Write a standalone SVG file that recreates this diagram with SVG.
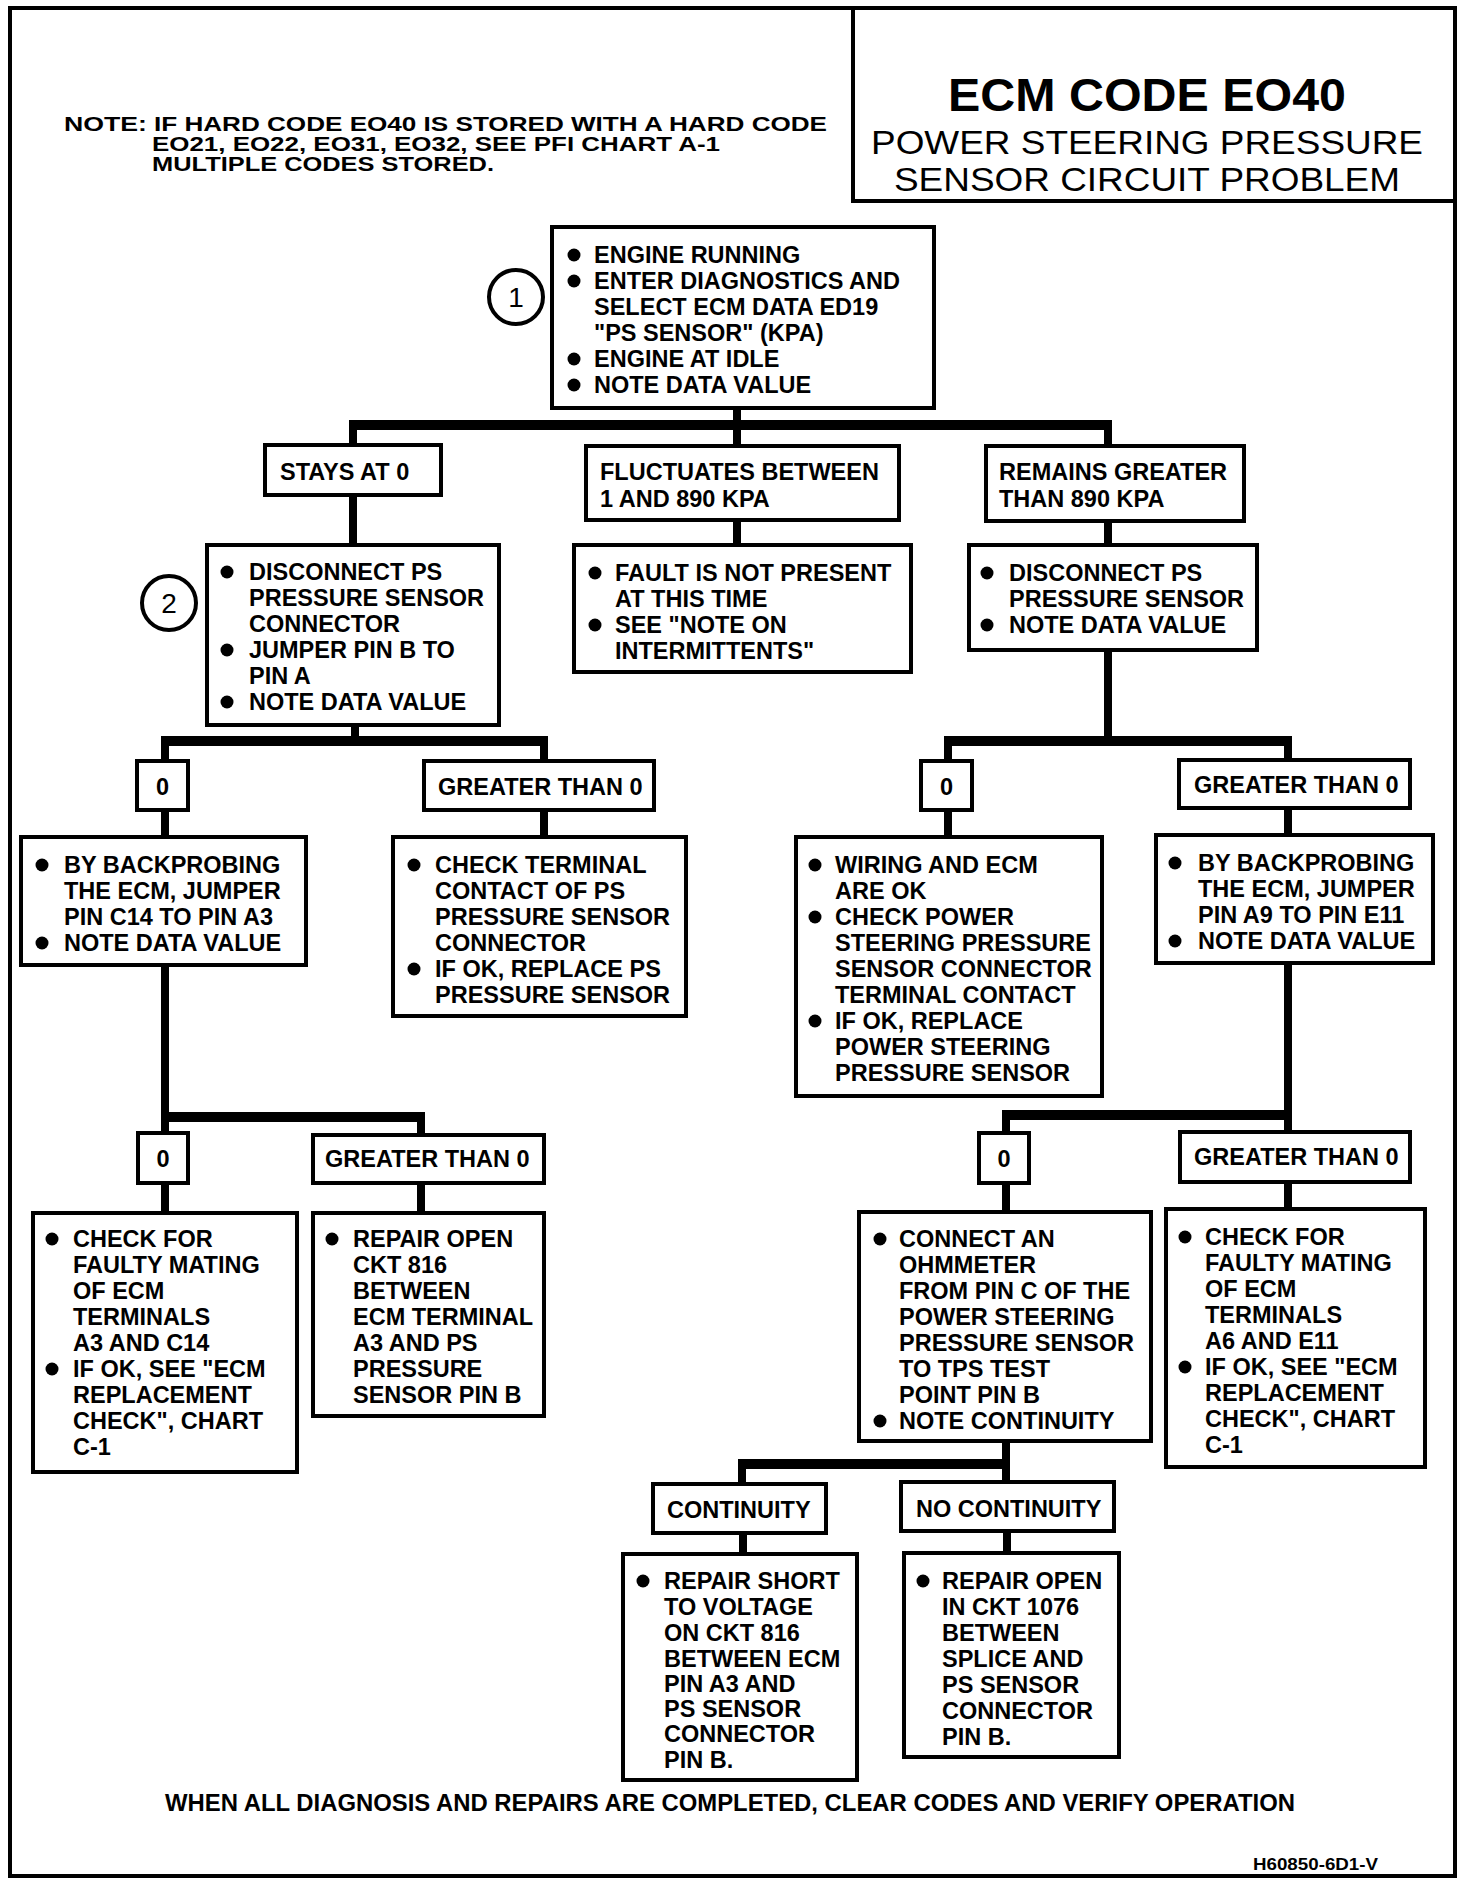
<svg xmlns="http://www.w3.org/2000/svg" width="1472" height="1886" viewBox="0 0 1472 1886">
<style>
.bg{fill:#fff}
.frame{fill:none;stroke:#000;stroke-width:4}
.box{fill:#fff;stroke:#000;stroke-width:4}
.conn{fill:none;stroke:#000;stroke-width:8;stroke-linecap:butt}
.bus{fill:none;stroke:#000;stroke-width:10;stroke-linecap:butt}
.t{font-family:"Liberation Sans",Arial,sans-serif;font-weight:bold;font-size:23.5px;fill:#000}
.note{font-family:"Liberation Sans",Arial,sans-serif;font-weight:bold;font-size:20px;fill:#000}
.title{font-family:"Liberation Sans",Arial,sans-serif;font-weight:bold;font-size:47px;fill:#000}
.sub{font-family:"Liberation Sans",Arial,sans-serif;font-weight:normal;font-size:34px;fill:#000}
.num{font-family:"Liberation Sans",Arial,sans-serif;font-weight:normal;font-size:28px;fill:#000}
.ring{fill:#fff;stroke:#000;stroke-width:4}
.dot{fill:#000}
.code{font-family:"Liberation Sans",Arial,sans-serif;font-weight:bold;font-size:16px;fill:#000}
</style>
<rect class="bg" x="0" y="0" width="1472" height="1886"/>
<rect class="frame" x="10" y="8" width="1445" height="1868"/>

<g id="title">
<rect class="frame" x="853" y="8" width="602" height="193"/>
<text class="title" x="1147" y="111" text-anchor="middle" textLength="398" lengthAdjust="spacingAndGlyphs">ECM CODE EO40</text>
<text class="sub" x="1147" y="154" text-anchor="middle" textLength="552" lengthAdjust="spacingAndGlyphs">POWER STEERING PRESSURE</text>
<text class="sub" x="1147" y="191" text-anchor="middle" textLength="506" lengthAdjust="spacingAndGlyphs">SENSOR CIRCUIT PROBLEM</text>
</g>

<g id="note">
<text class="note" x="64" y="131" textLength="83" lengthAdjust="spacingAndGlyphs">NOTE:</text>
<text class="note" x="154" y="131" textLength="673" lengthAdjust="spacingAndGlyphs">IF HARD CODE EO40 IS STORED WITH A HARD CODE</text>
<text class="note" x="152" y="151" textLength="568" lengthAdjust="spacingAndGlyphs">EO21, EO22, EO31, EO32, SEE PFI CHART A-1</text>
<text class="note" x="152" y="171" textLength="342" lengthAdjust="spacingAndGlyphs">MULTIPLE CODES STORED.</text>
</g>

<g id="connectors">
<path class="conn" d="M737,408 V446 M353,425 V445 M1108,425 V446"/>
<path class="bus" d="M349,425 H1112"/>
<path class="conn" d="M353,495 V545 M737,520 V545 M1108,521 V545"/>
<path class="conn" d="M355,725 V741 M165,741 V761 M544,741 V761"/>
<path class="bus" d="M161,741 H548"/>
<path class="conn" d="M165,810 V837 M544,810 V837"/>
<path class="conn" d="M1108,650 V741 M948,741 V761 M1288,741 V760"/>
<path class="bus" d="M944,741 H1292"/>
<path class="conn" d="M948,810 V837 M1288,808 V835"/>
<path class="conn" d="M165,965 V1133 M421,1117 V1135"/>
<path class="bus" d="M161,1117 H425"/>
<path class="conn" d="M165,1183 V1213 M421,1183 V1213"/>
<path class="conn" d="M1288,963 V1132 M1006,1115 V1133"/>
<path class="bus" d="M1002,1115 H1292"/>
<path class="conn" d="M1006,1183 V1212 M1288,1182 V1209"/>
<path class="conn" d="M1006,1441 V1482 M742,1464 V1484"/>
<path class="bus" d="M738,1464 H1010"/>
<path class="conn" d="M743,1533 V1554 M1007,1531 V1553"/>
</g>

<g id="step1">
<circle class="ring" cx="516" cy="297" r="27"/>
<text class="num" x="516" y="307" text-anchor="middle">1</text>
</g>
<g id="step2">
<circle class="ring" cx="169" cy="603" r="27"/>
<text class="num" x="169" y="613" text-anchor="middle">2</text>
</g>

<g id="start">
<rect class="box" x="552" y="227" width="382" height="181"/>
<circle class="dot" cx="574" cy="255" r="6.5"/>
<circle class="dot" cx="574" cy="281" r="6.5"/>
<circle class="dot" cx="574" cy="359" r="6.5"/>
<circle class="dot" cx="574" cy="385" r="6.5"/>
<text class="t" x="594" y="263">ENGINE RUNNING</text>
<text class="t" x="594" y="289">ENTER DIAGNOSTICS AND</text>
<text class="t" x="594" y="315">SELECT ECM DATA ED19</text>
<text class="t" x="594" y="341">"PS SENSOR" (KPA)</text>
<text class="t" x="594" y="367">ENGINE AT IDLE</text>
<text class="t" x="594" y="393">NOTE DATA VALUE</text>
</g>

<g id="stays0">
<rect class="box" x="265" y="445" width="176" height="50"/>
<text class="t" x="280" y="480">STAYS AT 0</text>
</g>
<g id="fluctuates">
<rect class="box" x="586" y="446" width="313" height="74"/>
<text class="t" x="600" y="480">FLUCTUATES BETWEEN</text>
<text class="t" x="600" y="507">1 AND 890 KPA</text>
</g>
<g id="remains">
<rect class="box" x="986" y="446" width="258" height="75"/>
<text class="t" x="999" y="480">REMAINS GREATER</text>
<text class="t" x="999" y="507">THAN 890 KPA</text>
</g>

<g id="disconnectJumper">
<rect class="box" x="207" y="545" width="292" height="180"/>
<circle class="dot" cx="227" cy="572" r="6.5"/>
<circle class="dot" cx="227" cy="650" r="6.5"/>
<circle class="dot" cx="227" cy="702" r="6.5"/>
<text class="t" x="249" y="580">DISCONNECT PS</text>
<text class="t" x="249" y="606">PRESSURE SENSOR</text>
<text class="t" x="249" y="632">CONNECTOR</text>
<text class="t" x="249" y="658">JUMPER PIN B TO</text>
<text class="t" x="249" y="684">PIN A</text>
<text class="t" x="249" y="710">NOTE DATA VALUE</text>
</g>
<g id="faultNotPresent">
<rect class="box" x="574" y="545" width="337" height="127"/>
<circle class="dot" cx="595" cy="573" r="6.5"/>
<circle class="dot" cx="595" cy="625" r="6.5"/>
<text class="t" x="615" y="581">FAULT IS NOT PRESENT</text>
<text class="t" x="615" y="607">AT THIS TIME</text>
<text class="t" x="615" y="633">SEE "NOTE ON</text>
<text class="t" x="615" y="659">INTERMITTENTS"</text>
</g>
<g id="disconnectSensor">
<rect class="box" x="969" y="545" width="288" height="105"/>
<circle class="dot" cx="987" cy="573" r="6.5"/>
<circle class="dot" cx="987" cy="625" r="6.5"/>
<text class="t" x="1009" y="581">DISCONNECT PS</text>
<text class="t" x="1009" y="607">PRESSURE SENSOR</text>
<text class="t" x="1009" y="633">NOTE DATA VALUE</text>
</g>

<g id="l0">
<rect class="box" x="137" y="761" width="51" height="49"/>
<text class="t" x="162.5" y="795" text-anchor="middle">0</text>
</g>
<g id="lGreater">
<rect class="box" x="424" y="761" width="230" height="49"/>
<text class="t" x="438" y="795">GREATER THAN 0</text>
</g>
<g id="r0">
<rect class="box" x="921" y="761" width="51" height="49"/>
<text class="t" x="946.5" y="795" text-anchor="middle">0</text>
</g>
<g id="rGreater">
<rect class="box" x="1179" y="760" width="231" height="48"/>
<text class="t" x="1194" y="793">GREATER THAN 0</text>
</g>

<g id="backprobeL">
<rect class="box" x="21" y="837" width="285" height="128"/>
<circle class="dot" cx="42" cy="865" r="6.5"/>
<circle class="dot" cx="42" cy="943" r="6.5"/>
<text class="t" x="64" y="873">BY BACKPROBING</text>
<text class="t" x="64" y="899">THE ECM, JUMPER</text>
<text class="t" x="64" y="925">PIN C14 TO PIN A3</text>
<text class="t" x="64" y="951">NOTE DATA VALUE</text>
</g>
<g id="checkTerminal">
<rect class="box" x="393" y="837" width="293" height="179"/>
<circle class="dot" cx="414" cy="865" r="6.5"/>
<circle class="dot" cx="414" cy="969" r="6.5"/>
<text class="t" x="435" y="873">CHECK TERMINAL</text>
<text class="t" x="435" y="899">CONTACT OF PS</text>
<text class="t" x="435" y="925">PRESSURE SENSOR</text>
<text class="t" x="435" y="951">CONNECTOR</text>
<text class="t" x="435" y="977">IF OK, REPLACE PS</text>
<text class="t" x="435" y="1003">PRESSURE SENSOR</text>
</g>
<g id="wiringOk">
<rect class="box" x="796" y="837" width="306" height="259"/>
<circle class="dot" cx="815" cy="865" r="6.5"/>
<circle class="dot" cx="815" cy="917" r="6.5"/>
<circle class="dot" cx="815" cy="1021" r="6.5"/>
<text class="t" x="835" y="873">WIRING AND ECM</text>
<text class="t" x="835" y="899">ARE OK</text>
<text class="t" x="835" y="925">CHECK POWER</text>
<text class="t" x="835" y="951">STEERING PRESSURE</text>
<text class="t" x="835" y="977">SENSOR CONNECTOR</text>
<text class="t" x="835" y="1003">TERMINAL CONTACT</text>
<text class="t" x="835" y="1029">IF OK, REPLACE</text>
<text class="t" x="835" y="1055">POWER STEERING</text>
<text class="t" x="835" y="1081">PRESSURE SENSOR</text>
</g>
<g id="backprobeR">
<rect class="box" x="1156" y="835" width="277" height="128"/>
<circle class="dot" cx="1175" cy="863" r="6.5"/>
<circle class="dot" cx="1175" cy="941" r="6.5"/>
<text class="t" x="1198" y="871">BY BACKPROBING</text>
<text class="t" x="1198" y="897">THE ECM, JUMPER</text>
<text class="t" x="1198" y="923">PIN A9 TO PIN E11</text>
<text class="t" x="1198" y="949">NOTE DATA VALUE</text>
</g>

<g id="l2_0">
<rect class="box" x="138" y="1133" width="50" height="50"/>
<text class="t" x="163" y="1167" text-anchor="middle">0</text>
</g>
<g id="l2Greater">
<rect class="box" x="313" y="1135" width="231" height="48"/>
<text class="t" x="325" y="1167">GREATER THAN 0</text>
</g>
<g id="r2_0">
<rect class="box" x="979" y="1133" width="50" height="50"/>
<text class="t" x="1004" y="1167" text-anchor="middle">0</text>
</g>
<g id="r2Greater">
<rect class="box" x="1180" y="1132" width="230" height="50"/>
<text class="t" x="1194" y="1165">GREATER THAN 0</text>
</g>

<g id="checkMatingL">
<rect class="box" x="33" y="1213" width="264" height="259"/>
<circle class="dot" cx="52" cy="1239" r="6.5"/>
<circle class="dot" cx="52" cy="1369" r="6.5"/>
<text class="t" x="73" y="1247">CHECK FOR</text>
<text class="t" x="73" y="1273">FAULTY MATING</text>
<text class="t" x="73" y="1299">OF ECM</text>
<text class="t" x="73" y="1325">TERMINALS</text>
<text class="t" x="73" y="1351">A3 AND C14</text>
<text class="t" x="73" y="1377">IF OK, SEE "ECM</text>
<text class="t" x="73" y="1403">REPLACEMENT</text>
<text class="t" x="73" y="1429">CHECK", CHART</text>
<text class="t" x="73" y="1455">C-1</text>
</g>
<g id="repairOpen816">
<rect class="box" x="313" y="1213" width="231" height="203"/>
<circle class="dot" cx="332" cy="1239" r="6.5"/>
<text class="t" x="353" y="1247">REPAIR OPEN</text>
<text class="t" x="353" y="1273">CKT 816</text>
<text class="t" x="353" y="1299">BETWEEN</text>
<text class="t" x="353" y="1325">ECM TERMINAL</text>
<text class="t" x="353" y="1351">A3 AND PS</text>
<text class="t" x="353" y="1377">PRESSURE</text>
<text class="t" x="353" y="1403">SENSOR PIN B</text>
</g>
<g id="connectOhmmeter">
<rect class="box" x="859" y="1212" width="292" height="229"/>
<circle class="dot" cx="880" cy="1239" r="6.5"/>
<circle class="dot" cx="880" cy="1421" r="6.5"/>
<text class="t" x="899" y="1247">CONNECT AN</text>
<text class="t" x="899" y="1273">OHMMETER</text>
<text class="t" x="899" y="1299">FROM PIN C OF THE</text>
<text class="t" x="899" y="1325">POWER STEERING</text>
<text class="t" x="899" y="1351">PRESSURE SENSOR</text>
<text class="t" x="899" y="1377">TO TPS TEST</text>
<text class="t" x="899" y="1403">POINT PIN B</text>
<text class="t" x="899" y="1429">NOTE CONTINUITY</text>
</g>
<g id="checkMatingR">
<rect class="box" x="1166" y="1209" width="259" height="258"/>
<circle class="dot" cx="1185" cy="1237" r="6.5"/>
<circle class="dot" cx="1185" cy="1367" r="6.5"/>
<text class="t" x="1205" y="1245">CHECK FOR</text>
<text class="t" x="1205" y="1271">FAULTY MATING</text>
<text class="t" x="1205" y="1297">OF ECM</text>
<text class="t" x="1205" y="1323">TERMINALS</text>
<text class="t" x="1205" y="1349">A6 AND E11</text>
<text class="t" x="1205" y="1375">IF OK, SEE "ECM</text>
<text class="t" x="1205" y="1401">REPLACEMENT</text>
<text class="t" x="1205" y="1427">CHECK", CHART</text>
<text class="t" x="1205" y="1453">C-1</text>
</g>

<g id="continuity">
<rect class="box" x="653" y="1484" width="173" height="49"/>
<text class="t" x="667" y="1518">CONTINUITY</text>
</g>
<g id="noContinuity">
<rect class="box" x="901" y="1482" width="213" height="49"/>
<text class="t" x="916" y="1517">NO CONTINUITY</text>
</g>

<g id="repairShort">
<rect class="box" x="623" y="1554" width="234" height="226"/>
<circle class="dot" cx="643" cy="1581" r="6.5"/>
<text class="t" x="664" y="1589">REPAIR SHORT</text>
<text class="t" x="664" y="1615">TO VOLTAGE</text>
<text class="t" x="664" y="1641">ON CKT 816</text>
<text class="t" x="664" y="1667">BETWEEN ECM</text>
<text class="t" x="664" y="1692">PIN A3 AND</text>
<text class="t" x="664" y="1717">PS SENSOR</text>
<text class="t" x="664" y="1742">CONNECTOR</text>
<text class="t" x="664" y="1768">PIN B.</text>
</g>
<g id="repairOpen1076">
<rect class="box" x="904" y="1553" width="215" height="204"/>
<circle class="dot" cx="923" cy="1581" r="6.5"/>
<text class="t" x="942" y="1589">REPAIR OPEN</text>
<text class="t" x="942" y="1615">IN CKT 1076</text>
<text class="t" x="942" y="1641">BETWEEN</text>
<text class="t" x="942" y="1667">SPLICE AND</text>
<text class="t" x="942" y="1693">PS SENSOR</text>
<text class="t" x="942" y="1719">CONNECTOR</text>
<text class="t" x="942" y="1745">PIN B.</text>
</g>

<g id="footer">
<text class="t" x="165" y="1811" textLength="1130" lengthAdjust="spacingAndGlyphs">WHEN ALL DIAGNOSIS AND REPAIRS ARE COMPLETED, CLEAR CODES AND VERIFY OPERATION</text>
<text class="code" x="1253" y="1870" textLength="125" lengthAdjust="spacingAndGlyphs">H60850-6D1-V</text>
</g>
</svg>
